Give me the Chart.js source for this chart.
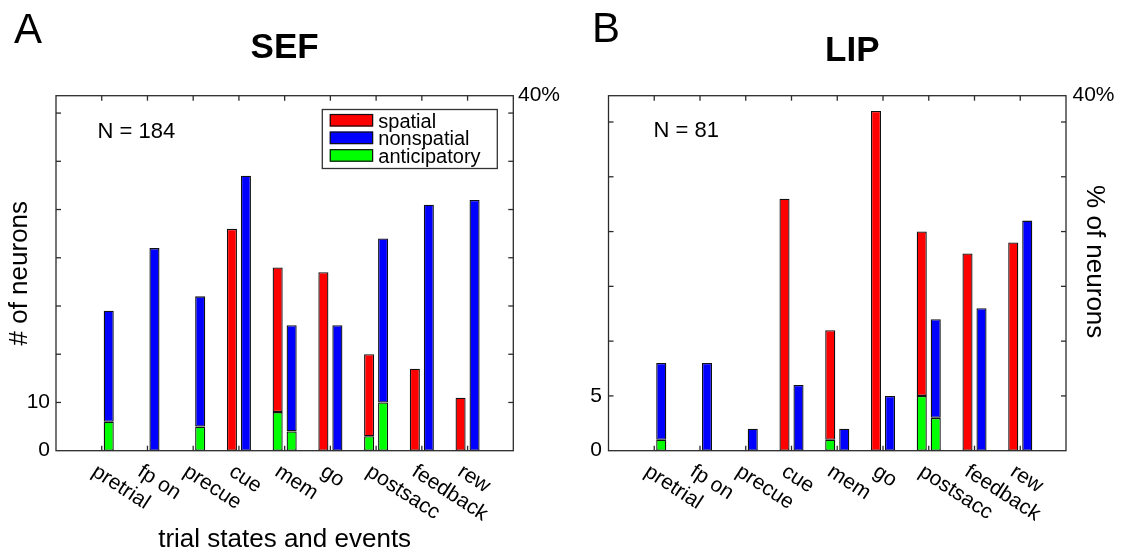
<!DOCTYPE html>
<html>
<head>
<meta charset="utf-8">
<script src="https://cdn.jsdelivr.net/npm/chart.js@4.4.0/dist/chart.umd.min.js"></script>
<style>
html,body{margin:0;padding:0;background:#fff;}
#wrap{position:relative;width:1124px;height:552px;overflow:hidden;background:#fff;}
canvas{position:absolute;top:0;}
</style>
</head>
<body>
<div id="wrap">
  <canvas id="cA" width="562" height="552" style="left:0px"></canvas>
  <canvas id="cB" width="562" height="552" style="left:562px"></canvas>
</div>
<script>
// ---------------- data ----------------
const categories = ['pretrial', 'fp on', 'precue', 'cue', 'mem', 'go', 'postsacc', 'feedback', 'rew'];

// SEF (N = 184): number of neurons
const sefSpatial           = [0, 0, 0, 46, 38, 37, 20, 17, 11];
const sefNonspatial        = [29, 42, 32, 57, 26, 26, 44, 51, 52];
const sefAnticipSpatial    = [0, 0, 0, 0, 8, 0, 3, 0, 0];
const sefAnticipNonspatial = [6, 0, 5, 0, 4, 0, 10, 0, 0];

// LIP (N = 81): number of neurons
const lipSpatial           = [0, 0, 0, 23, 11, 31, 20, 18, 19];
const lipNonspatial        = [8, 8, 2, 6, 2, 5, 12, 13, 21];
const lipAnticipSpatial    = [0, 0, 0, 0, 1, 0, 5, 0, 0];
const lipAnticipNonspatial = [1, 0, 0, 0, 0, 0, 3, 0, 0];

const sefN = 184;
const lipN = 81;
const sefLeftTicks = [0, 10];
const lipLeftTicks = [0, 5];
const sefTickStep = 10;
const lipTickStep = 5;
const percentTicks = [40];
const legendLabels = ['spatial', 'nonspatial', 'anticipatory'];

// ---------------- styles ----------------
const FONT = "'Liberation Sans', Arial, Helvetica, sans-serif";
const COLORS = { spatial: '#ff0000', nonspatial: '#0000ff', anticipatory: '#00ff00' };
Chart.defaults.font.family = FONT;
Chart.defaults.color = '#000';

function toNull(a) { return a.map(v => (v === 0 ? null : v)); }
function pad(a) { return [null, ...a, null]; }

function buildData(sp, ns, asp, ans) {
  const common = { borderColor: '#111', borderWidth: 1.3, borderSkipped: false,
                   categoryPercentage: 0.612, barPercentage: 0.72 };
  return {
    labels: ['', ...categories, ''],
    datasets: [
      Object.assign({ label: 'anticipatory', data: pad(toNull(asp)), backgroundColor: COLORS.anticipatory, stack: 's' }, common),
      Object.assign({ label: 'spatial', data: pad(toNull(sp.map((v, i) => v - asp[i]))), backgroundColor: COLORS.spatial, stack: 's' }, common),
      Object.assign({ label: 'anticipatory', data: pad(toNull(ans)), backgroundColor: COLORS.anticipatory, stack: 'n' }, common),
      Object.assign({ label: 'nonspatial', data: pad(toNull(ns.map((v, i) => v - ans[i]))), backgroundColor: COLORS.nonspatial, stack: 'n' }, common)
    ]
  };
}

const framePlugin = {
  id: 'frame',
  afterDraw(chart, args, o) {
    const { ctx, chartArea: a, scales: { x, y } } = chart;
    ctx.save();
    ctx.strokeStyle = '#2b2b2b';
    ctx.lineWidth = 1.3;
    const seg = (x1, y1, x2, y2) => { ctx.beginPath(); ctx.moveTo(x1, y1); ctx.lineTo(x2, y2); ctx.stroke(); };
    for (let v = o.step; v <= y.max + 1e-9; v += o.step) {
      const py = y.getPixelForValue(v);
      seg(a.left, py, a.left + 5, py);
      seg(a.right - 5, py, a.right, py);
    }
    categories.forEach((c, i) => {
      const px = x.getPixelForValue(i + 1);
      seg(px, a.top, px, a.top + 5);
      seg(px, a.bottom - 5, px, a.bottom);
    });
    ctx.strokeRect(a.left, a.top, a.right - a.left, a.bottom - a.top);

    // rotated category labels
    ctx.fillStyle = '#000';
    ctx.font = '21px ' + FONT;
    ctx.textAlign = 'left';
    ctx.textBaseline = 'alphabetic';
    categories.forEach((c, i) => {
      const px = x.getPixelForValue(i + 1);
      ctx.save();
      ctx.translate(px - 11, a.bottom + 24);
      ctx.rotate(33 * Math.PI / 180);
      ctx.fillText(c, 0, 0);
      ctx.restore();
    });

    // panel letter
    ctx.font = '42px ' + FONT;
    ctx.fillText(o.letter, o.letterX, o.letterY);

    // title
    ctx.font = 'bold 35px ' + FONT;
    ctx.textAlign = 'center';
    ctx.fillText(o.title, (a.left + a.right) / 2 + o.titleDx, o.titleY);

    // N label
    ctx.font = '22px ' + FONT;
    ctx.textAlign = 'left';
    ctx.fillText('N = ' + o.n, a.left + o.nDx, o.nY);

    // legend
    if (o.legend) {
      const lx = a.right - 191, ly = a.top + 13.8, lw = 175, lh = 59;
      ctx.fillStyle = '#fff';
      ctx.fillRect(lx, ly, lw, lh);
      ctx.strokeStyle = '#333';
      ctx.lineWidth = 1.3;
      ctx.strokeRect(lx, ly, lw, lh);
      const keys = ['spatial', 'nonspatial', 'anticipatory'];
      legendLabels.forEach((t, i) => {
        const sy = ly + 4.5 + 17.6 * i;
        ctx.fillStyle = COLORS[keys[i]];
        ctx.fillRect(lx + 7.5, sy, 43.3, 12.5);
        ctx.lineWidth = 1.2;
        ctx.strokeStyle = '#111';
        ctx.strokeRect(lx + 8, sy + 0.5, 42.3, 11.5);
        ctx.fillStyle = '#000';
        ctx.font = '20px ' + FONT;
        ctx.fillText(t, lx + 56, sy + 13.6);
      });
    }

    // right axis title
    if (o.rightTitle) {
      ctx.save();
      ctx.fillStyle = '#000';
      ctx.font = '26px ' + FONT;
      ctx.textAlign = 'center';
      ctx.textBaseline = 'alphabetic';
      ctx.translate(a.right + 21, (a.top + a.bottom) / 2 - 11.5);
      ctx.rotate(Math.PI / 2);
      ctx.fillText(o.rightTitle, 0, 0);
      ctx.restore();
    }
    ctx.restore();
  }
};

function makeChart(id, data, cfg) {
  return new Chart(document.getElementById(id), {
    type: 'bar',
    data: data,
    options: {
      responsive: false,
      animation: false,
      events: [],
      layout: { padding: { top: 95.7, left: 0, right: 0, bottom: 0 } },
      plugins: {
        legend: { display: false },
        tooltip: { enabled: false },
        frame: cfg.frame
      },
      scales: {
        x: {
          type: 'category', offset: false, stacked: true,
          grid: { display: false, drawTicks: false }, border: { display: false },
          ticks: { display: false },
          title: { display: !!cfg.xTitle, text: cfg.xTitle || '', color: '#000',
                   font: { size: 26, family: FONT }, padding: { top: 0, bottom: -3 } },
          afterFit: s => { s.height = 101.3; }
        },
        y: {
          type: 'linear', position: 'left', stacked: true, min: 0, max: cfg.n * percentTicks[0] / 100,
          grid: { display: false, drawTicks: false }, border: { display: false },
          afterBuildTicks: s => { s.ticks = cfg.leftTicks.map(v => ({ value: v })); },
          ticks: { color: '#000', font: { size: 21, family: FONT }, padding: cfg.leftPad },
          title: { display: !!cfg.yTitle, text: cfg.yTitle || '', color: '#000',
                   font: { size: 26, family: FONT }, padding: { top: 3.9, bottom: 0 } },
          afterFit: s => { s.width = cfg.leftWidth; }
        },
        y2: {
          type: 'linear', position: 'right', min: 0, max: percentTicks[0],
          grid: { display: false, drawTicks: false }, border: { display: false },
          afterBuildTicks: s => { s.ticks = percentTicks.map(v => ({ value: v })); },
          ticks: { color: '#000', font: { size: 21, family: FONT }, padding: cfg.rightPad, callback: v => v + '%' },
          afterFit: s => { s.width = cfg.rightWidth; }
        }
      }
    },
    plugins: [framePlugin]
  });
}

makeChart('cA', buildData(sefSpatial, sefNonspatial, sefAnticipSpatial, sefAnticipNonspatial), {
  n: sefN, leftTicks: sefLeftTicks, leftWidth: 56, rightWidth: 48.7, leftPad: 6, rightPad: 4.7,
  xTitle: 'trial states and events', yTitle: '# of neurons',
  frame: { step: sefTickStep, letter: 'A', letterX: 14, letterY: 43, title: 'SEF', titleDx: 0, titleY: 58.3,
           n: sefN, nDx: 41.5, nY: 138, legend: true, rightTitle: null }
});

makeChart('cB', buildData(lipSpatial, lipNonspatial, lipAnticipSpatial, lipAnticipNonspatial), {
  n: lipN, leftTicks: lipLeftTicks, leftWidth: 46.5, rightWidth: 58, leftPad: 6.5, rightPad: 6.5,
  xTitle: null, yTitle: null,
  frame: { step: lipTickStep, letter: 'B', letterX: 30, letterY: 41.7, title: 'LIP', titleDx: 15, titleY: 61,
           n: lipN, nDx: 45, nY: 137, legend: false, rightTitle: '% of neurons' }
});
</script>
</body>
</html>
